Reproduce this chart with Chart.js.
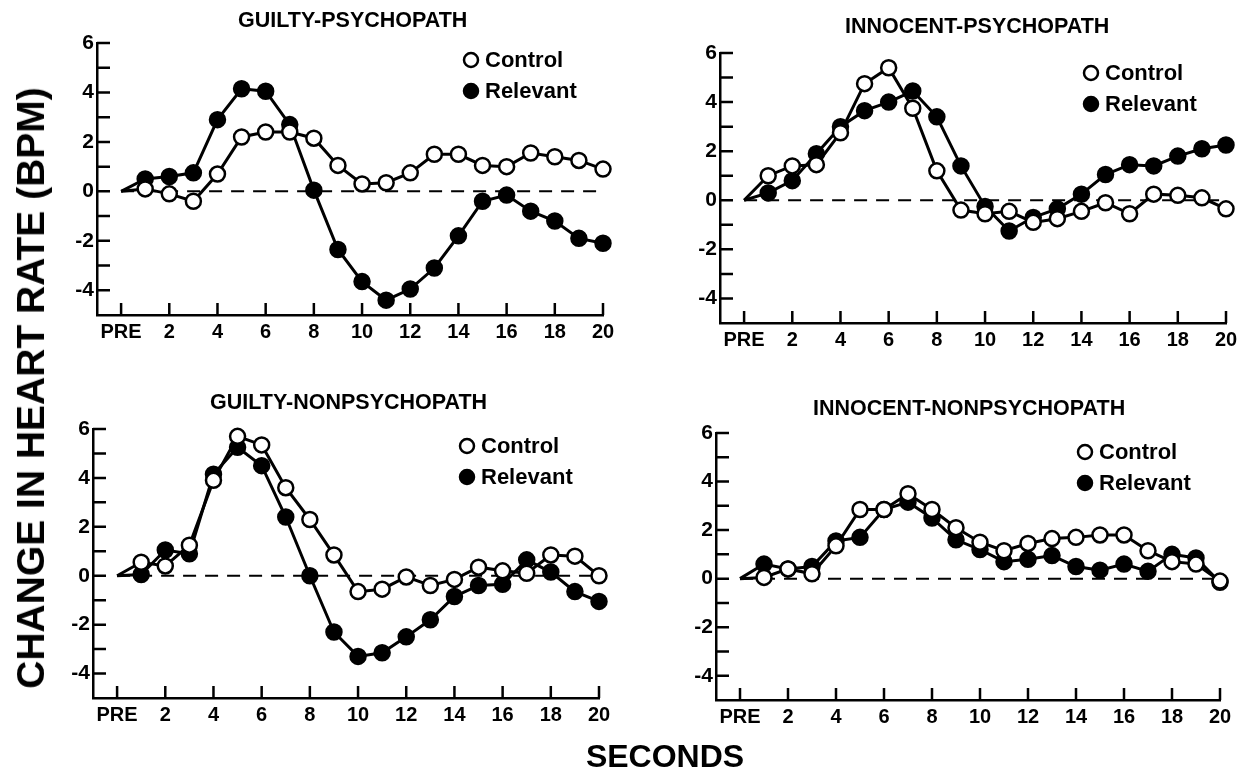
<!DOCTYPE html>
<html>
<head>
<meta charset="utf-8">
<script src="https://cdn.jsdelivr.net/npm/chart.js@4.4.1/dist/chart.umd.min.js"></script>
<style>
  html, body { margin: 0; padding: 0; background: #fff; }
  #wrap { position: relative; width: 1252px; height: 780px; overflow: hidden; background: #fff;
          font-family: "Liberation Sans", Arial, sans-serif; color: #000; }
  #wrap canvas { position: absolute; }
  .ytitle { position: absolute; left: 31px; top: 388px; transform: translate(-50%, -50%) rotate(-90deg);
            font-weight: bold; font-size: 39px; white-space: nowrap; letter-spacing: 0px; }
  .xtitle { position: absolute; left: 665px; top: 756px; transform: translate(-50%, -50%);
            font-weight: bold; font-size: 32px; white-space: nowrap; }
</style>
</head>
<body>
<div id="wrap">
  <canvas id="c1"></canvas>
  <canvas id="c2"></canvas>
  <canvas id="c3"></canvas>
  <canvas id="c4"></canvas>
  <div class="ytitle">CHANGE IN HEART RATE (BPM)</div>
  <div class="xtitle">SECONDS</div>
</div>
<script>
// ---------- data ----------
const seconds = [0,1,2,3,4,5,6,7,8,9,10,11,12,13,14,15,16,17,18,19,20]; // 0 = PRE
const xTickValues = [0,2,4,6,8,10,12,14,16,18,20];
const xTickLabels = ['PRE','2','4','6','8','10','12','14','16','18','20'];
const yTickValues = [-4,-3,-2,-1,0,1,2,3,4,5,6];
const yLabelValues = [-4,-2,0,2,4,6];
const seriesLabels = ['Control','Relevant'];
const panelTitles = ['GUILTY-PSYCHOPATH','INNOCENT-PSYCHOPATH','GUILTY-NONPSYCHOPATH','INNOCENT-NONPSYCHOPATH'];
const zeroLineX = [0, 20];

const guiltyPsyControl   = [0, 0.1, -0.1, -0.4, 0.7, 2.2, 2.4, 2.4, 2.15, 1.05, 0.3, 0.35, 0.75, 1.5, 1.5, 1.05, 1.0, 1.55, 1.4, 1.25, 0.9];
const guiltyPsyRelevant  = [0, 0.5, 0.6, 0.75, 2.9, 4.15, 4.05, 2.7, 0.05, -2.35, -3.65, -4.4, -3.95, -3.1, -1.8, -0.4, -0.15, -0.8, -1.2, -1.9, -2.1];
const innocentPsyControl  = [0, 1.0, 1.4, 1.45, 2.75, 4.75, 5.4, 3.75, 1.2, -0.4, -0.55, -0.45, -0.9, -0.75, -0.45, -0.1, -0.55, 0.25, 0.2, 0.1, -0.35];
const innocentPsyRelevant = [0, 0.3, 0.8, 1.9, 3.0, 3.65, 4.0, 4.45, 3.4, 1.4, -0.25, -1.25, -0.7, -0.35, 0.25, 1.05, 1.45, 1.4, 1.8, 2.1, 2.25];
const guiltyNonControl   = [0, 0.55, 0.4, 1.25, 3.9, 5.7, 5.35, 3.6, 2.3, 0.85, -0.65, -0.55, -0.05, -0.4, -0.15, 0.35, 0.2, 0.1, 0.85, 0.8, 0];
const guiltyNonRelevant  = [0, 0.05, 1.05, 0.9, 4.15, 5.25, 4.5, 2.4, 0, -2.3, -3.3, -3.15, -2.5, -1.8, -0.85, -0.4, -0.35, 0.65, 0.15, -0.65, -1.05];
const innocentNonControl  = [0, 0.05, 0.4, 0.2, 1.35, 2.85, 2.85, 3.5, 2.85, 2.1, 1.5, 1.15, 1.45, 1.65, 1.7, 1.8, 1.8, 1.15, 0.7, 0.6, -0.1];
const innocentNonRelevant = [0, 0.6, 0.4, 0.5, 1.55, 1.7, 2.85, 3.15, 2.5, 1.6, 1.2, 0.7, 0.8, 0.95, 0.5, 0.35, 0.6, 0.3, 1.0, 0.85, -0.15];

// ---------- layout (page pixels) ----------
const FONT = '"Liberation Sans", Arial, Helvetica, sans-serif';
const YW = 60, PT = 45, PR = 30, XH = 40;
const panels = [
  { id:'c1', title: panelTitles[0], control: guiltyPsyControl,   relevant: guiltyPsyRelevant,
    area:{l:97, t:43, r:603, b:315},  titlePos:{x:238, y:21},  legendPos:{x:471, y:60} },
  { id:'c2', title: panelTitles[1], control: innocentPsyControl, relevant: innocentPsyRelevant,
    area:{l:720, t:53, r:1226, b:323}, titlePos:{x:845, y:27}, legendPos:{x:1091, y:73} },
  { id:'c3', title: panelTitles[2], control: guiltyNonControl,   relevant: guiltyNonRelevant,
    area:{l:93, t:429, r:599, b:698}, titlePos:{x:210, y:403}, legendPos:{x:467, y:446} },
  { id:'c4', title: panelTitles[3], control: innocentNonControl, relevant: innocentNonRelevant,
    area:{l:716, t:433, r:1220, b:700}, titlePos:{x:813, y:409}, legendPos:{x:1085, y:452} }
];

Chart.defaults.font.family = FONT;
Chart.defaults.color = '#000';

const inwardTicks = {
  id: 'inwardTicks',
  afterDraw(chart) {
    const { ctx, chartArea: a, scales: { x, y } } = chart;
    ctx.save();
    ctx.strokeStyle = '#000';
    ctx.lineWidth = 2.5;
    ctx.beginPath();
    yTickValues.forEach(v => {
      const py = y.getPixelForValue(v);
      ctx.moveTo(a.left, py); ctx.lineTo(a.left + 13, py);
    });
    xTickValues.forEach(v => {
      const px = x.getPixelForValue(v);
      ctx.moveTo(px, a.bottom); ctx.lineTo(px, a.bottom - 12);
    });
    ctx.stroke();
    ctx.restore();
  }
};

const panelDeco = {
  id: 'panelDeco',
  afterDraw(chart, args, opts) {
    const { ctx } = chart;
    ctx.save();
    ctx.fillStyle = '#000';
    ctx.textBaseline = 'middle';
    ctx.textAlign = 'left';
    ctx.font = 'bold 21.5px ' + FONT;
    ctx.fillText(opts.title, opts.titleX, opts.titleY);
    // legend
    const ds = chart.data.datasets;
    [0, 1].forEach(i => {
      const cy = opts.legendY + i * 31;
      ctx.beginPath();
      ctx.arc(opts.legendX, cy, 7, 0, Math.PI * 2);
      ctx.fillStyle = ds[i].pointBackgroundColor;
      ctx.fill();
      ctx.lineWidth = 2.5;
      ctx.strokeStyle = '#000';
      ctx.stroke();
      ctx.fillStyle = '#000';
      ctx.font = 'bold 22px ' + FONT;
      ctx.fillText(ds[i].label, opts.legendX + 14, cy + 1);
    });
    ctx.restore();
  }
};

panels.forEach(p => {
  const cv = document.getElementById(p.id);
  const left = p.area.l - YW, top = p.area.t - PT;
  const w = (p.area.r - p.area.l) + YW + PR;
  const h = (p.area.b - p.area.t) + PT + XH;
  cv.width = w; cv.height = h;
  cv.style.left = left + 'px'; cv.style.top = top + 'px';
  cv.style.width = w + 'px'; cv.style.height = h + 'px';

  const mk = (arr) => seconds.map((s, i) => ({ x: s, y: arr[i] }));
  const radii = seconds.map(s => (s === 0 ? 0 : 7.5));

  new Chart(cv.getContext('2d'), {
    type: 'line',
    data: {
      datasets: [
        { label: seriesLabels[0], data: mk(p.control), borderColor: '#000', borderWidth: 3,
          pointRadius: radii, pointHoverRadius: radii, pointBackgroundColor: '#fff', pointBorderColor: '#000',
          pointBorderWidth: 2.5, tension: 0, clip: false },
        { label: seriesLabels[1], data: mk(p.relevant), borderColor: '#000', borderWidth: 3,
          pointRadius: radii, pointHoverRadius: radii, pointBackgroundColor: '#000', pointBorderColor: '#000',
          pointBorderWidth: 2.5, tension: 0, clip: false },
        { label: 'zero', data: zeroLineX.map(v => ({ x: v, y: 0 })), borderColor: '#000', borderWidth: 2,
          borderDash: [13, 9], pointRadius: 0, tension: 0, clip: false }
      ]
    },
    options: {
      responsive: false,
      animation: false,
      devicePixelRatio: 1,
      events: [],
      layout: { padding: { top: PT, right: PR, left: 0, bottom: 0 } },
      plugins: {
        legend: { display: false },
        tooltip: { enabled: false },
        title: { display: false },
        panelDeco: {
          title: p.title,
          titleX: p.titlePos.x - left, titleY: p.titlePos.y - top,
          legendX: p.legendPos.x - left, legendY: p.legendPos.y - top
        }
      },
      scales: {
        x: {
          type: 'linear', min: -1, max: 20,
          afterBuildTicks: s => { s.ticks = xTickValues.map(v => ({ value: v })); },
          afterFit: s => { s.height = XH; },
          ticks: {
            autoSkip: false, maxRotation: 0, padding: 5, color: '#000',
            font: { size: 20, weight: 'bold' },
            callback: v => { const i = xTickValues.indexOf(v); return i >= 0 ? xTickLabels[i] : ''; }
          },
          grid: { display: false, drawTicks: false },
          border: { display: true, color: '#000', width: 2.5 }
        },
        y: {
          type: 'linear', min: -5, max: 6,
          afterBuildTicks: s => { s.ticks = yTickValues.map(v => ({ value: v })); },
          afterFit: s => { s.width = YW; },
          ticks: {
            autoSkip: false, padding: 3, color: '#000',
            font: { size: 21, weight: 'bold' },
            callback: v => (yLabelValues.includes(v) ? String(v) : '')
          },
          grid: { display: false, drawTicks: false },
          border: { display: true, color: '#000', width: 2.5 }
        }
      }
    },
    plugins: [inwardTicks, panelDeco]
  });
});
</script>
</body>
</html>
